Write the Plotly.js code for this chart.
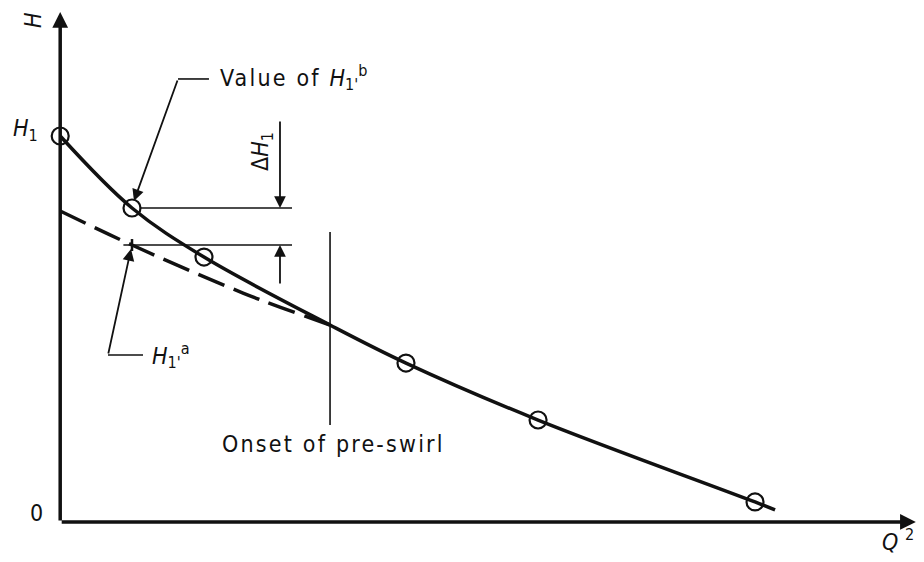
<!DOCTYPE html>
<html>
<head>
<meta charset="utf-8">
<script src="https://cdn.plot.ly/plotly-3.0.1.min.js"></script>
<style>
  html, body { margin: 0; padding: 0; background: #fff; }
  #chart { width: 924px; height: 562px; }
</style>
</head>
<body>
<div id="chart"></div>
<script>
// measured points, Q^2 vs H
const pointQ = [0, 0.835, 1.672, 4.021, 5.557, 8.08];
const pointH = [4.525, 3.681, 3.106, 1.863, 1.195, 0.234];

// fitted head curve (passes the onset point at Q^2 = 3.138)
const curveQ = [0, 0.835, 1.672, 3.138, 4.021, 5.557, 8.08, 8.313];
const curveH = [4.525, 3.681, 3.106, 2.309, 1.863, 1.195, 0.234, 0.14];

// extrapolated curve without pre-swirl
const dashQ = [0, 0.835, 2.126, 3.138];
const dashH = [3.646, 3.247, 2.684, 2.309];

// key values
const q1 = 0.835;      // Q^2 at H1'
const h1b = 3.681;     // value of H1' (measured)
const h1a = 3.247;     // H1' on extrapolated curve
const onsetQ = 3.138;  // onset of pre-swirl

const black = "#111";
const font = { family: "DejaVu Sans Condensed, DejaVu Sans, sans-serif", size: 23, color: black };
const spaced = (s) => `<span style="letter-spacing:2.2px">${s}</span>`;

const data = [
	{
		x: dashQ, y: dashH, mode: "lines", type: "scatter",
		line: { color: black, width: 3.5, dash: "28px,10px", shape: "spline" },
		hoverinfo: "skip",
	},
	{
		x: curveQ, y: curveH, mode: "lines", type: "scatter",
		line: { color: black, width: 3.5, shape: "spline" },
		hoverinfo: "skip",
	},
	{
		x: pointQ, y: pointH, mode: "markers", type: "scatter",
		marker: { symbol: "circle-open", size: 17, color: black, line: { width: 2.2, color: black } },
		hoverinfo: "skip",
	},
];

// thin helper lines
const thin = { color: black, width: 1.6 };
const dimX = 2.556;
const lineEnd = 2.696;
const shapes = [
	{ type: "line", x0: q1 + 0.09, x1: lineEnd, y0: h1b, y1: h1b, line: thin },
	{ type: "line", x0: q1 - 0.1, x1: lineEnd, y0: h1a, y1: h1a, line: thin },
	{ type: "line", x0: q1, x1: q1, y0: h1a - 0.07, y1: h1a + 0.07, line: { color: black, width: 2.5 } },
	{ type: "line", x0: onsetQ, x1: onsetQ, y0: 1.136, y1: 3.40, line: thin },
	{ type: "line", x0: 1.37, x1: 1.73, y0: 5.194, y1: 5.194, line: thin },
	{ type: "line", x0: 0.556, x1: 0.963, y0: 1.957, y1: 1.957, line: thin },
];

// arrows: annotation arrow from (ax, ay) to (x, y)
const arrow = (x, y, ax, ay, w, size) => ({
	x, y, ax, ay, xref: "x", yref: "y", axref: "x", ayref: "y",
	text: "", showarrow: true, arrowhead: 2, arrowsize: size, arrowwidth: w, arrowcolor: black,
});
const label = (x, y, text, extra) => Object.assign({
	x, y, xref: "x", yref: "y", text, showarrow: false, font,
}, extra || {});

const annotations = [
	arrow(0, 5.98, 0, 0, 3.5, 0.9),
	arrow(9.95, 0, 0, 0, 3.5, 0.9),
	arrow(0.858, 3.763, 1.37, 5.194, 1.8, 1.3),
	arrow(0.823, 3.2, 0.556, 1.957, 1.8, 1.3),
	arrow(dimX, h1b, dimX, 4.713, 1.8, 1.3),
	arrow(dimX, h1a, dimX, 2.778, 1.8, 1.3),
	label(-0.316, 5.886, "<i>H</i>", { textangle: -90 }),
	label(-0.409, 4.596, "<i>H</i><sub>1</sub>"),
	label(-0.27, 0.105, "0"),
	label(9.743, -0.212, "<i>Q</i> <sup>2</sup>"),
	label(1.835, 5.21, spaced("Value of ") + "<i>H</i><sub>1'</sub><sup>b</sup>", { xanchor: "left" }),
	label(1.044, 1.957, "<i>H</i><sub>1'</sub><sup>a</sup>", { xanchor: "left" }),
	label(2.347, 4.338, "Δ<i>H</i><sub>1</sub>", { textangle: -90 }),
	label(3.173, 0.914, spaced("Onset of pre-swirl")),
];

const layout = {
	width: 924,
	height: 562,
	margin: { l: 0, r: 0, t: 0, b: 0 },
	paper_bgcolor: "#fff",
	plot_bgcolor: "#fff",
	showlegend: false,
	xaxis: { range: [-0.7, 10.045], visible: false, fixedrange: true },
	yaxis: { range: [-0.47, 6.12], visible: false, fixedrange: true },
	shapes,
	annotations,
	font,
};

Plotly.newPlot("chart", data, layout, { displayModeBar: false, staticPlot: true });
</script>
</body>
</html>
